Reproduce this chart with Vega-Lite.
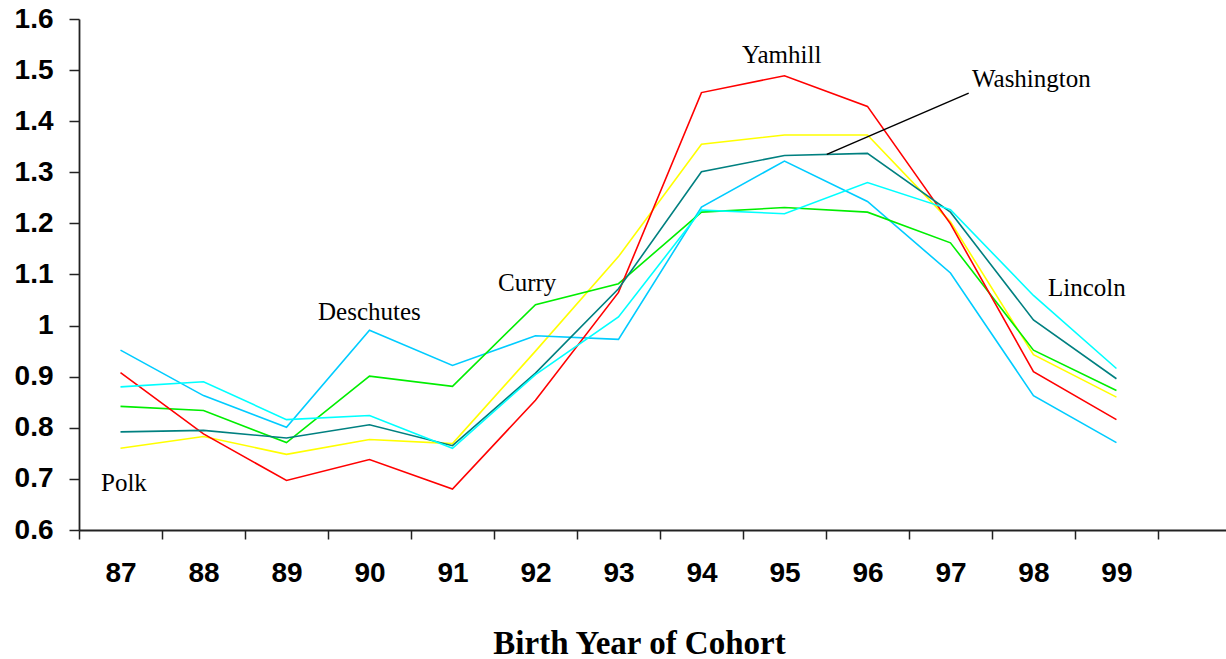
{
  "$schema": "https://vega.github.io/schema/vega-lite/v6.json",
  "width": 1147,
  "height": 511,
  "autosize": "none",
  "padding": {"left": 79, "top": 19, "right": 0, "bottom": 129},
  "background": "white",
  "config": {"view": {"stroke": null}},
  "datasets": {
    "series": [
      {"county": "Polk", "year": 87, "value": 0.760},
      {"county": "Polk", "year": 88, "value": 0.783},
      {"county": "Polk", "year": 89, "value": 0.748},
      {"county": "Polk", "year": 90, "value": 0.777},
      {"county": "Polk", "year": 91, "value": 0.769},
      {"county": "Polk", "year": 92, "value": 0.950},
      {"county": "Polk", "year": 93, "value": 1.135},
      {"county": "Polk", "year": 94, "value": 1.355},
      {"county": "Polk", "year": 95, "value": 1.373},
      {"county": "Polk", "year": 96, "value": 1.373},
      {"county": "Polk", "year": 97, "value": 1.203},
      {"county": "Polk", "year": 98, "value": 0.943},
      {"county": "Polk", "year": 99, "value": 0.860},
      {"county": "Deschutes", "year": 87, "value": 0.952},
      {"county": "Deschutes", "year": 88, "value": 0.863},
      {"county": "Deschutes", "year": 89, "value": 0.801},
      {"county": "Deschutes", "year": 90, "value": 0.991},
      {"county": "Deschutes", "year": 91, "value": 0.922},
      {"county": "Deschutes", "year": 92, "value": 0.980},
      {"county": "Deschutes", "year": 93, "value": 0.973},
      {"county": "Deschutes", "year": 94, "value": 1.232},
      {"county": "Deschutes", "year": 95, "value": 1.322},
      {"county": "Deschutes", "year": 96, "value": 1.243},
      {"county": "Deschutes", "year": 97, "value": 1.103},
      {"county": "Deschutes", "year": 98, "value": 0.863},
      {"county": "Deschutes", "year": 99, "value": 0.771},
      {"county": "Curry", "year": 87, "value": 0.842},
      {"county": "Curry", "year": 88, "value": 0.834},
      {"county": "Curry", "year": 89, "value": 0.771},
      {"county": "Curry", "year": 90, "value": 0.901},
      {"county": "Curry", "year": 91, "value": 0.881},
      {"county": "Curry", "year": 92, "value": 1.041},
      {"county": "Curry", "year": 93, "value": 1.082},
      {"county": "Curry", "year": 94, "value": 1.222},
      {"county": "Curry", "year": 95, "value": 1.231},
      {"county": "Curry", "year": 96, "value": 1.222},
      {"county": "Curry", "year": 97, "value": 1.162},
      {"county": "Curry", "year": 98, "value": 0.952},
      {"county": "Curry", "year": 99, "value": 0.873},
      {"county": "Yamhill", "year": 87, "value": 0.908},
      {"county": "Yamhill", "year": 88, "value": 0.788},
      {"county": "Yamhill", "year": 89, "value": 0.697},
      {"county": "Yamhill", "year": 90, "value": 0.738},
      {"county": "Yamhill", "year": 91, "value": 0.680},
      {"county": "Yamhill", "year": 92, "value": 0.854},
      {"county": "Yamhill", "year": 93, "value": 1.065},
      {"county": "Yamhill", "year": 94, "value": 1.456},
      {"county": "Yamhill", "year": 95, "value": 1.489},
      {"county": "Yamhill", "year": 96, "value": 1.429},
      {"county": "Yamhill", "year": 97, "value": 1.199},
      {"county": "Yamhill", "year": 98, "value": 0.910},
      {"county": "Yamhill", "year": 99, "value": 0.816},
      {"county": "Washington", "year": 87, "value": 0.792},
      {"county": "Washington", "year": 88, "value": 0.795},
      {"county": "Washington", "year": 89, "value": 0.780},
      {"county": "Washington", "year": 90, "value": 0.806},
      {"county": "Washington", "year": 91, "value": 0.765},
      {"county": "Washington", "year": 92, "value": 0.907},
      {"county": "Washington", "year": 93, "value": 1.072},
      {"county": "Washington", "year": 94, "value": 1.301},
      {"county": "Washington", "year": 95, "value": 1.333},
      {"county": "Washington", "year": 96, "value": 1.337},
      {"county": "Washington", "year": 97, "value": 1.222},
      {"county": "Washington", "year": 98, "value": 1.011},
      {"county": "Washington", "year": 99, "value": 0.896},
      {"county": "Lincoln", "year": 87, "value": 0.880},
      {"county": "Lincoln", "year": 88, "value": 0.890},
      {"county": "Lincoln", "year": 89, "value": 0.816},
      {"county": "Lincoln", "year": 90, "value": 0.824},
      {"county": "Lincoln", "year": 91, "value": 0.760},
      {"county": "Lincoln", "year": 92, "value": 0.904},
      {"county": "Lincoln", "year": 93, "value": 1.017},
      {"county": "Lincoln", "year": 94, "value": 1.226},
      {"county": "Lincoln", "year": 95, "value": 1.219},
      {"county": "Lincoln", "year": 96, "value": 1.280},
      {"county": "Lincoln", "year": 97, "value": 1.227},
      {"county": "Lincoln", "year": 98, "value": 1.059},
      {"county": "Lincoln", "year": 99, "value": 0.916}
    ],
    "labels": [
      {"label": "Polk", "year": 86.765, "value": 0.6765},
      {"label": "Deschutes", "year": 89.38, "value": 1.0118},
      {"label": "Curry", "year": 91.548, "value": 1.0686},
      {"label": "Yamhill", "year": 94.488, "value": 1.5137},
      {"label": "Washington", "year": 97.259, "value": 1.4667},
      {"label": "Lincoln", "year": 98.175, "value": 1.0588}
    ],
    "pointer": [
      {"year": 95.51, "value": 1.335, "year2": 97.22, "value2": 1.455}
    ]
  },
  "layer": [
    {
      "data": {"name": "series"},
      "mark": {"type": "line", "strokeWidth": 1.6},
      "encoding": {
        "x": {
          "field": "year",
          "type": "quantitative",
          "scale": {"domain": [86.5, 100.32], "nice": false, "zero": false},
          "axis": {
            "values": [86.5, 87.5, 88.5, 89.5, 90.5, 91.5, 92.5, 93.5, 94.5, 95.5, 96.5, 97.5, 98.5, 99.5],
            "labelExpr": "datum.value < 99 ? format(datum.value + 0.5, 'd') : ''",
            "labelOffset": 41.5,
            "labelFlush": false,
            "labelOverlap": false,
            "labelBound": false,
            "labelFont": "Liberation Sans",
            "labelFontSize": 28,
            "labelFontWeight": "bold",
            "labelColor": "black",
            "labelPadding": 20,
            "tickSize": 9,
            "tickWidth": 1.5,
            "tickColor": "#222222",
            "domainColor": "#222222",
            "domainWidth": 1.8,
            "grid": false,
            "title": "Birth Year of Cohort",
            "titleFont": "Liberation Serif",
            "titleFontSize": 33,
            "titleFontWeight": "bold",
            "titleColor": "black",
            "titleX": 560,
            "titleY": 123,
            "titleAlign": "center",
            "titleBaseline": "alphabetic"
          }
        },
        "y": {
          "field": "value",
          "type": "quantitative",
          "scale": {"domain": [0.6, 1.6], "nice": false, "zero": false},
          "axis": {
            "values": [0.6, 0.7, 0.8, 0.9, 1.0, 1.1, 1.2, 1.3, 1.4, 1.5, 1.6],
            "format": ".1~f",
            "labelFont": "Liberation Sans",
            "labelFontSize": 28,
            "labelFontWeight": "bold",
            "labelColor": "black",
            "labelPadding": 16,
            "tickSize": 10,
            "tickWidth": 1.5,
            "tickColor": "#222222",
            "domainColor": "#222222",
            "domainWidth": 1.8,
            "grid": false,
            "title": null
          }
        },
        "color": {
          "field": "county",
          "type": "nominal",
          "scale": {
            "domain": ["Polk", "Deschutes", "Curry", "Yamhill", "Washington", "Lincoln"],
            "range": ["#FFFF00", "#00CCFF", "#00EE00", "#FF0000", "#008080", "#00FFFF"]
          },
          "legend": null
        },
        "detail": {"field": "county"}
      }
    },
    {
      "data": {"name": "pointer"},
      "mark": {"type": "rule", "color": "black", "strokeWidth": 1.5},
      "encoding": {
        "x": {"field": "year", "type": "quantitative"},
        "y": {"field": "value", "type": "quantitative"},
        "x2": {"field": "year2"},
        "y2": {"field": "value2"}
      }
    },
    {
      "data": {"name": "labels"},
      "mark": {"type": "text", "align": "left", "baseline": "alphabetic", "font": "Liberation Serif", "fontSize": 25, "color": "black"},
      "encoding": {
        "x": {"field": "year", "type": "quantitative"},
        "y": {"field": "value", "type": "quantitative"},
        "text": {"field": "label"}
      }
    }
  ]
}
